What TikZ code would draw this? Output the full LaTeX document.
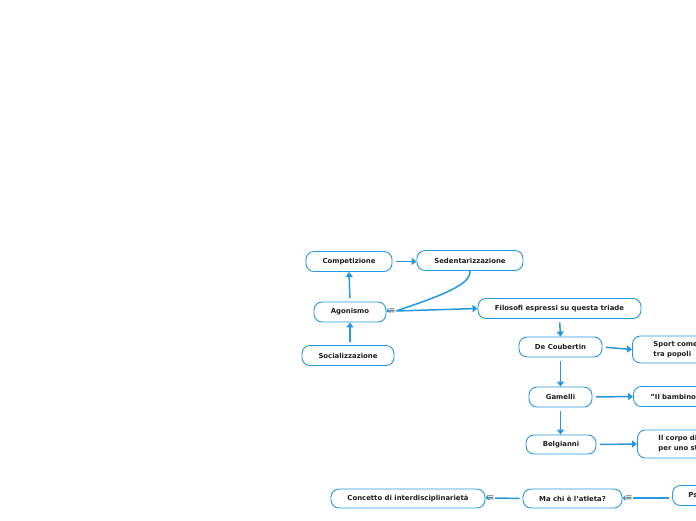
\documentclass[tikz,border=0pt]{standalone}
\usepackage{fontspec}
\setmainfont{DejaVu Sans}
\usetikzlibrary{arrows.meta}
\definecolor{mmblue}{RGB}{38,152,222}
\definecolor{mmtext}{RGB}{30,30,30}
\definecolor{mmgray}{RGB}{70,70,70}
\tikzset{
 topic/.style={draw=mmblue, line width=0.9pt, rounded corners=8pt, fill=white, inner sep=0pt, minimum height=20pt, font=\fontsize{6.9}{10}\selectfont\bfseries, text=mmtext, align=center},
 cuttopic/.style={topic, anchor=west, align=left, text width=110pt, inner ysep=0pt},
 link/.style={draw=mmblue, line width=1.5pt, -{Triangle[length=5pt,width=7pt]}, shorten <=3.5pt},
 plain/.style={draw=mmblue, line width=1.5pt},
 handle/.style={text=mmgray, font=\fontsize{8.5}{8.5}\selectfont, inner sep=0.3pt},
 tip/.style={draw=mmblue, line width=0.8pt, -{Triangle[length=3pt,width=5pt]}},
}
\begin{document}
\begin{tikzpicture}[x=1pt,y=-1pt]
\fill[white] (0,0) rectangle (696,520);
\useasboundingbox (0,0) rectangle (696,520);
\clip (0,0) rectangle (696,520);
\node[topic, minimum width=86pt] (comp) at (349,261.5) {Competizione};
\node[topic, minimum width=106pt] (sed) at (470,260.5) {Sedentarizzazione};
\node[topic, minimum width=72pt] (agon) at (350,312) {Agonismo};
\node[topic, minimum width=92pt] (soc) at (348,355.5) {Socializzazione};
\node[topic, minimum width=163pt] (fil) at (559.5,308.5) {Filosofi espressi su questa triade};
\node[topic, minimum width=83pt] (dec) at (560.5,347) {De Coubertin};
\node[topic, minimum width=63pt] (gam) at (560.5,397) {Gamelli};
\node[topic, minimum width=70pt, minimum height=19pt] (bel) at (561,444.5) {Belgianni};
\node[topic, minimum width=154pt, minimum height=19pt] (conc) at (408,498.5) {Concetto di interdisciplinarietà};
\node[topic, minimum width=99pt, minimum height=19pt] (machi) at (572.5,498.5) {Ma chi è l'atleta?};
\node[cuttopic, inner xsep=21pt, minimum height=27pt] (sport) at (632,349.5) {Sport come\\tra popoli};
\node[cuttopic, inner xsep=17pt] (bamb) at (633,396.5) {"Il bambino};
\node[cuttopic, inner xsep=21pt, minimum height=28pt] (corpo) at (637,444) {Il corpo di\\per uno st};
\node[cuttopic, inner xsep=16pt] (ps) at (672,495.5) {Ps};
\node[handle] (h1) at (392,311) {≡};
\node[handle] (h2) at (491,498) {≡};
\node[handle] (h3) at (629,498) {≡};
\draw[link] (comp.east) -- (comp.east -| sed.west);
\draw[link] (agon.north) -- (comp.south);
\draw[link] (agon.south |- soc.north) -- (agon.south);
\draw[link] (fil.south) -- (dec.north);
\draw[link] (dec.south) -- (gam.north);
\draw[link] (gam.south) -- (bel.north -| gam.south);
\draw[link] (dec.east) -- (sport.west);
\draw[link] (gam.east) -- (bamb.west);
\draw[link] (bel.east) -- (corpo.west);
\draw[plain] (h1.east) .. controls (440,296) and (471,285) .. (sed.south);
\draw[link, shorten <=1pt] (h1.east) -- (fil.west);
\draw[tip] (h1.west) -- (agon.east);
\draw[plain, shorten <=3pt] (h3.east -| ps.west) -- (h3.east);
\draw[tip] (h3.west) -- (machi.east);
\draw[plain, shorten <=3pt] (machi.west) -- (h2.east);
\draw[tip] (h2.west) -- (conc.east);
\end{tikzpicture}
\end{document}
